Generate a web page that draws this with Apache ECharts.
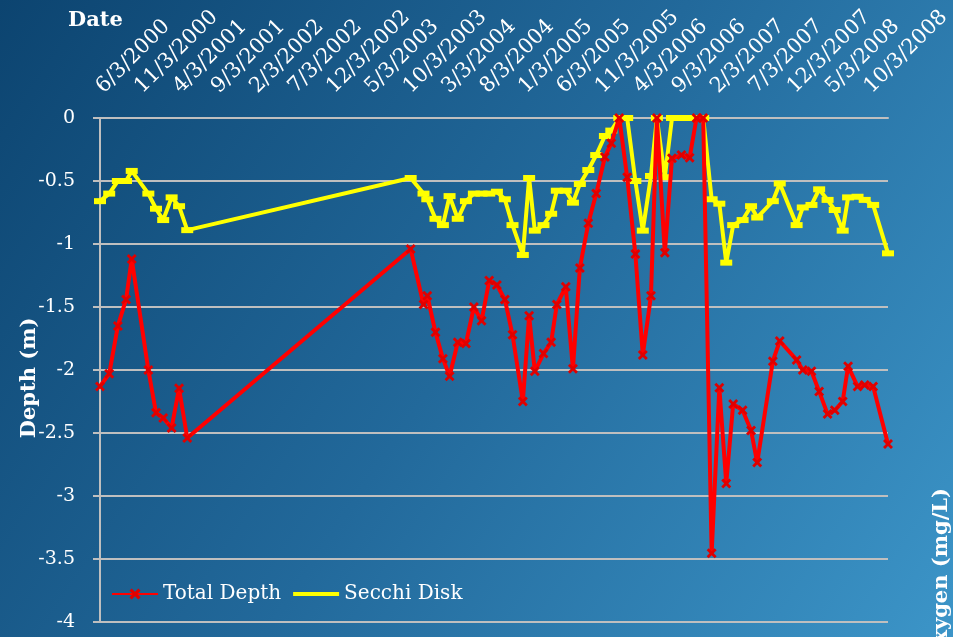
<!DOCTYPE html>
<html>
<head>
<meta charset="utf-8">
<script src="https://cdn.jsdelivr.net/npm/echarts@6/dist/echarts.min.js"></script>
<style>
html,body{margin:0;padding:0;background:#1a5c8a;}
#chart{width:953px;height:637px;}
</style>
</head>
<body>
<div id="chart"></div>
<script>
// Sampling dates (M/D/YYYY)
const dates = [
  '6/3/2000','7/9/2000','8/13/2000','9/15/2000','10/7/2000','12/12/2000','1/12/2001','2/10/2001','3/13/2001','4/12/2001','5/14/2001',
  '10/17/2003','12/7/2003','12/22/2003','1/24/2004','2/23/2004','3/19/2004','4/21/2004','5/23/2004','6/24/2004','7/24/2004',
  '8/24/2004','9/24/2004','10/25/2004','11/25/2004','1/5/2005','1/30/2005','2/22/2005','3/26/2005','4/26/2005','5/18/2005',
  '6/23/2005','7/21/2005','8/18/2005','9/21/2005','10/22/2005','11/26/2005','12/21/2005','1/22/2006','2/23/2006','3/25/2006',
  '4/24/2006','5/26/2006','6/19/2006','7/20/2006','8/18/2006','9/25/2006','10/27/2006','11/24/2006','12/20/2006','1/23/2007',
  '2/23/2007','3/20/2007','4/17/2007','5/24/2007','6/27/2007','7/21/2007','9/22/2007','10/19/2007','12/25/2007','1/19/2008',
  '2/23/2008','3/23/2008','4/26/2008','5/24/2008','6/25/2008','7/16/2008','8/23/2008','9/21/2008','10/24/2008','12/22/2008'
];
// Total Depth (m)
const totalDepth = [
  -2.13,-2.03,-1.65,-1.44,-1.12,-2.00,-2.34,-2.38,-2.46,-2.145,-2.54,
  -1.04,-1.48,-1.41,-1.70,-1.91,-2.05,-1.78,-1.79,-1.50,-1.61,
  -1.29,-1.325,-1.44,-1.72,-2.25,-1.57,-2.01,-1.87,-1.78,-1.48,
  -1.34,-1.99,-1.19,-0.836,-0.60,-0.31,-0.20,0,-0.47,-1.08,
  -1.88,-1.41,0,-1.07,-0.32,-0.294,-0.315,0,0,-3.455,
  -2.14,-2.90,-2.27,-2.32,-2.48,-2.735,-1.93,-1.77,-1.92,-2.00,
  -2.01,-2.17,-2.35,-2.32,-2.25,-1.97,-2.13,-2.12,-2.13,-2.587
];
// Secchi Disk (m)
const secchiDisk = [
  -0.66,-0.60,-0.50,-0.50,-0.42,-0.60,-0.72,-0.81,-0.63,-0.70,-0.89,
  -0.476,-0.60,-0.645,-0.80,-0.85,-0.62,-0.80,-0.66,-0.60,-0.60,
  -0.60,-0.585,-0.645,-0.85,-1.087,-0.476,-0.894,-0.85,-0.76,-0.577,
  -0.577,-0.672,-0.524,-0.413,-0.294,-0.143,-0.10,0,0,-0.50,
  -0.894,-0.46,0,-0.47,0,0,0,0,0,-0.645,
  -0.68,-1.148,-0.85,-0.81,-0.70,-0.79,-0.66,-0.52,-0.85,-0.71,
  -0.69,-0.566,-0.65,-0.73,-0.894,-0.63,-0.625,-0.65,-0.69,-1.074
];
// Axis tick labels (every 5 months from 6/3/2000)
const tickLabels = [
  '6/3/2000','11/3/2000','4/3/2001','9/3/2001','2/3/2002','7/3/2002','12/3/2002','5/3/2003','10/3/2003','3/3/2004',
  '8/3/2004','1/3/2005','6/3/2005','11/3/2005','4/3/2006','9/3/2006','2/3/2007','7/3/2007','12/3/2007','5/3/2008','10/3/2008'
];

function toMonths(s){
  const p = s.split('/').map(Number);
  return (p[2]-2000)*12 + (p[0]-6) + (p[1]-3)/30.44;
}
const redData = dates.map((d,i)=>[toMonths(d), totalDepth[i]]);
const yelData = dates.map((d,i)=>[toMonths(d), secchiDisk[i]]);
const xMax = toMonths(dates[dates.length-1]);

const FONT = 'DejaVu Serif';
const GRID = '#bfbfbf';
const chart = echarts.init(document.getElementById('chart'), null, {renderer:'canvas'});
chart.setOption({
  backgroundColor: new echarts.graphic.LinearGradient(0,0,1,1,[
    {offset:0,color:'#0c4470'},
    {offset:0.5,color:'#22699b'},
    {offset:1,color:'#3c95c8'}
  ]),
  animation:false,
  grid:{left:100,right:65,top:118,bottom:15,outerBoundsMode:'none',containLabel:false},
  xAxis:{
    type:'value', position:'top', min:0, max:xMax, interval:5,
    axisLine:{show:true,lineStyle:{color:GRID,width:2}},
    axisTick:{show:false},
    splitLine:{show:false},
    axisLabel:{
      rotate:45, margin:28, color:'#ffffff', fontFamily:FONT, fontSize:21,
      showMaxLabel:false,
      formatter:(v)=>{
        const k = v/5;
        return Math.abs(k-Math.round(k))<1e-6 ? (tickLabels[Math.round(k)] || '') : '';
      }
    }
  },
  yAxis:{
    type:'value', min:-4, max:0, interval:0.5,
    axisLine:{show:true,lineStyle:{color:GRID,width:2}},
    axisTick:{show:true,length:7,lineStyle:{color:GRID,width:2}},
    splitLine:{show:true,lineStyle:{color:GRID,width:2}},
    axisLabel:{color:'#ffffff',fontFamily:FONT,fontSize:19,margin:25,padding:[8,0,0,0]}
  },
  legend:{
    left:106, top:579, itemWidth:46, itemHeight:14, itemGap:12,
    textStyle:{color:'#ffffff',fontFamily:FONT,fontSize:20},
    data:[
      'Total Depth',
      {name:'Secchi Disk', icon:'path://M0,0L46,0L46,0.01ZM0,5L46,5L46,9L0,9ZM0,14L46,14L46,14.01Z'}
    ]
  },
  series:[
    {
      name:'Secchi Disk', type:'line', data:yelData, z:2,
      symbol:'rect', symbolSize:[12,6],
      lineStyle:{color:'#ffff00',width:4},
      itemStyle:{color:'#ffff00'}
    },
    {
      name:'Total Depth', type:'line', data:redData, z:3,
      symbol:'path://M2,0L5,3L8,0L10,2L7,5L10,8L8,10L5,7L2,10L0,8L3,5L0,2Z', symbolSize:10,
      lineStyle:{color:'#ff0000',width:4},
      itemStyle:{color:'#e00000'}
    }
  ],
  graphic:[
    {type:'text', left:68, top:10, style:{text:'Date', fill:'#ffffff', font:'bold 21px "DejaVu Serif"'}},
    {type:'text', x:30, y:378, rotation:Math.PI/2,
      style:{text:'Depth (m)', fill:'#ffffff', font:'bold 21px "DejaVu Serif"', align:'center', verticalAlign:'middle'}},
    {type:'text', x:942, y:488, rotation:Math.PI/2,
      style:{text:'Dissolved Oxygen (mg/L)', fill:'#ffffff', font:'bold 21px "DejaVu Serif"', align:'right', verticalAlign:'middle'}}
  ]
});
</script>
</body>
</html>
